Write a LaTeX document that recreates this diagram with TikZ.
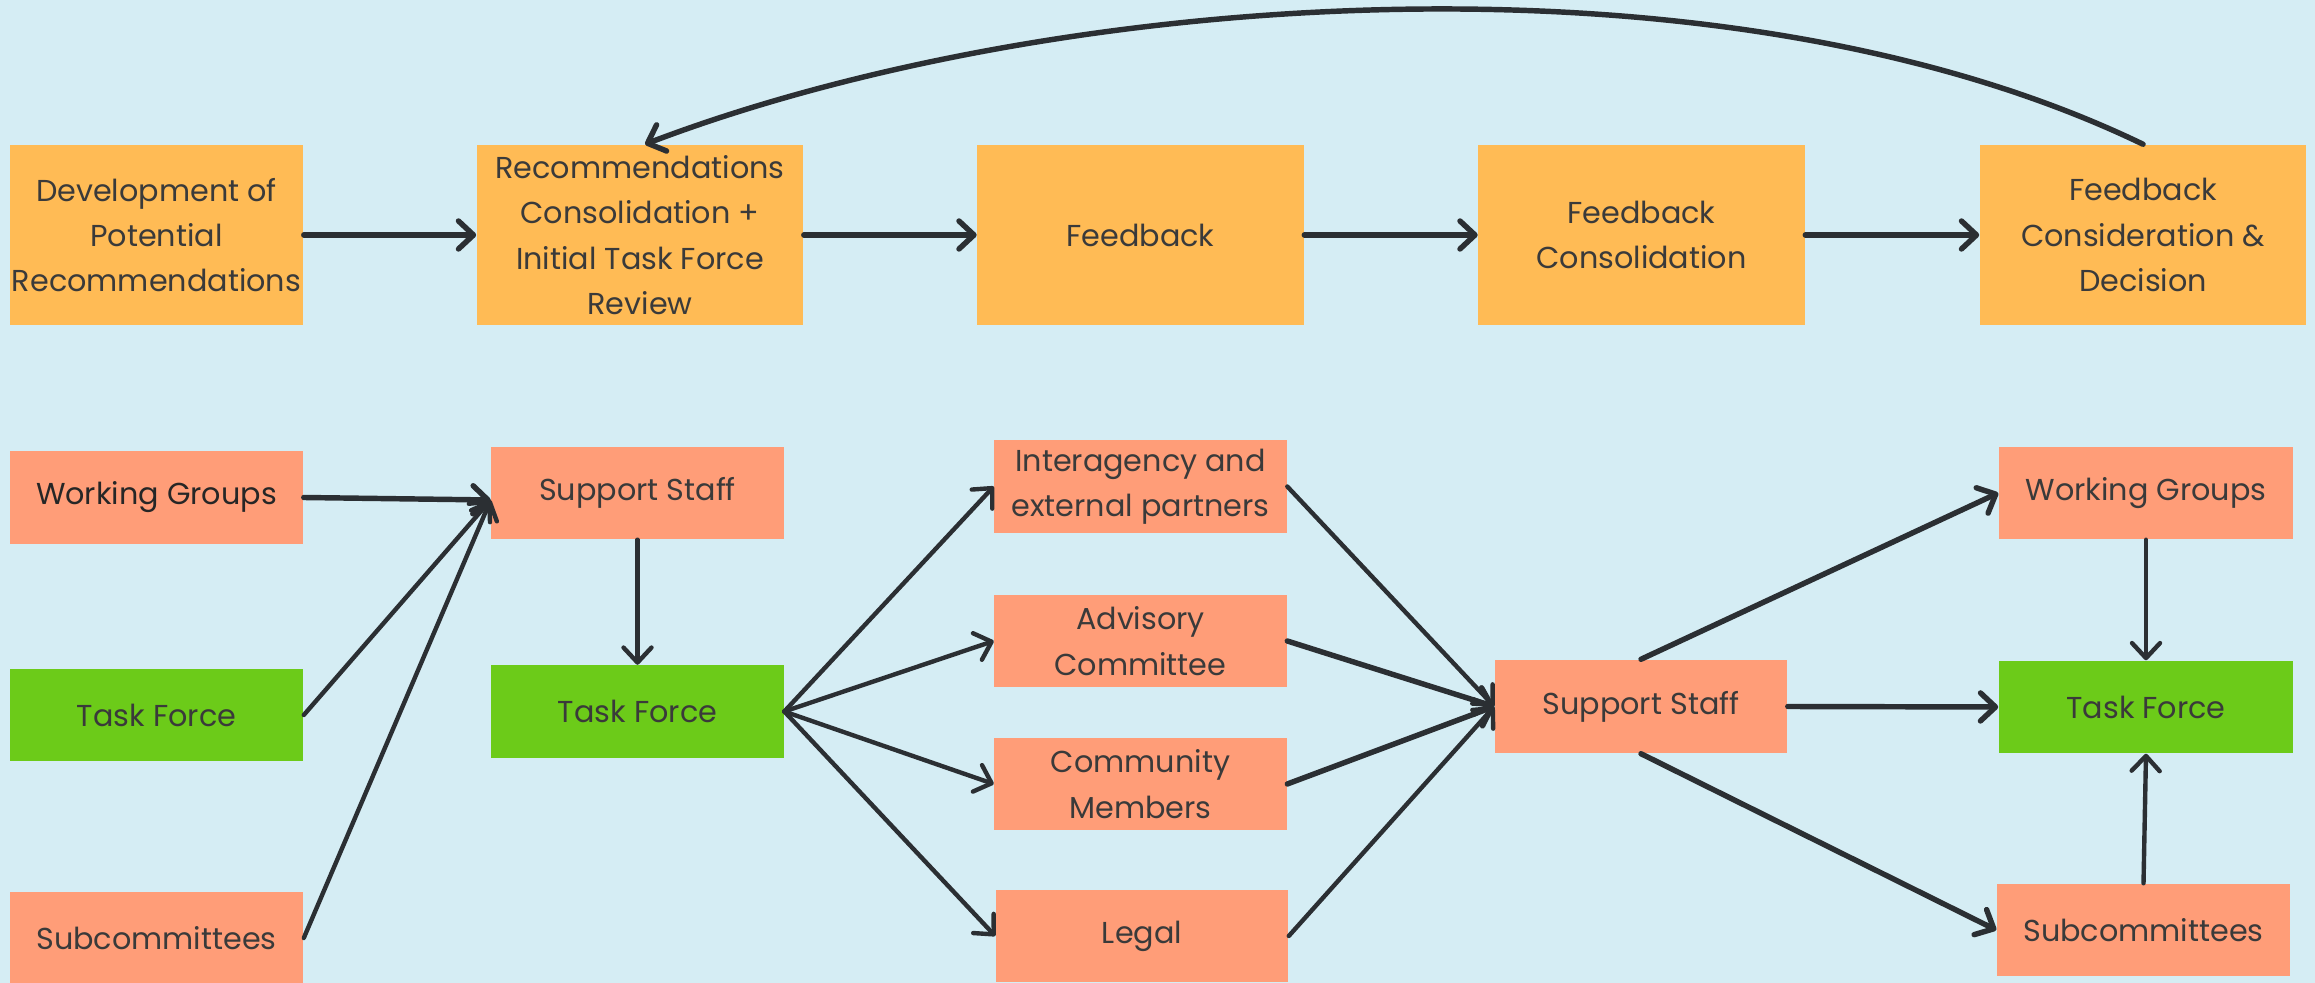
\documentclass[tikz,border=0pt]{standalone}
\usepackage{fontspec}
\setmainfont{Poppins}
\usetikzlibrary{arrows.meta,calc}
\definecolor{bg}{HTML}{D5EDF4}
\definecolor{orng}{HTML}{FFBB55}
\definecolor{salm}{HTML}{FF9D78}
\definecolor{grn}{HTML}{6CCB19}
\definecolor{txt}{HTML}{3A3A3A}
\definecolor{lin}{HTML}{2B2F33}
\begin{document}
\begin{tikzpicture}[x=0.01cm,y=-0.01cm,
  box/.style={inner sep=0pt,align=center,text=txt,font=\fontsize{8.6pt}{12.9pt}\selectfont},
  obox/.style={box,fill=orng,minimum width=3.26cm,minimum height=1.80cm},
  sbox/.style={box,fill=salm,minimum width=2.92cm,minimum height=0.92cm},
  gbox/.style={box,fill=grn,minimum width=2.92cm,minimum height=0.92cm},
  arr/.style={draw=lin,line width=1.25pt,line cap=round,-{Straight Barb[length=1.5mm,width=2.8mm,line cap=round,line join=round]}},
  tarr/.style={arr,line width=1.55pt}]
\fill[bg] (0,0) rectangle (2315,983);
\useasboundingbox (0,0) rectangle (2315,983);
% top row
\node[obox,minimum width=2.93cm] (b1) at (156.5,235) {Development of\\Potential\\Recommendations};
\node[obox] (b2) at (640,235) {Recommendations\\Consolidation +\\Initial Task Force\\Review};
\node[obox] (b3) at (1140.5,235) {Feedback};
\node[obox] (b4) at (1641.5,235) {Feedback\\Consolidation};
\node[obox] (b5) at (2143,235) {Feedback\\Consideration \&\\Decision};
\draw[tarr] (b1) -- (b2);
\draw[tarr] (b2) -- (b3);
\draw[tarr] (b3) -- (b4);
\draw[tarr] (b4) -- (b5);
\draw[tarr] (b5.north) .. controls (1720,-60) and (1050,-10) .. ([xshift=0.05cm]b2.north);
% bottom left
\node[sbox,minimum width=2.93cm,text=black!85] (wgL) at (156.5,497.5) {Working Groups};
\node[gbox,minimum width=2.93cm] (tfL) at (156.5,715) {Task Force};
\node[sbox,minimum width=2.93cm] (subL) at (156.5,938) {Subcommittees};
\node[sbox] (ss1) at (637.5,493) {Support Staff};
\node[gbox] (tf2) at (637.5,711.5) {Task Force};
\coordinate (ss1in) at ($(ss1.west)+(0,7)$);
\draw[tarr] (wgL.east) -- (ss1in);
\draw[arr] (tfL.east) -- (ss1in);
\draw[arr] (subL.east) -- (ss1in);
\draw[arr] (ss1.south) -- (tf2.north);
% middle
\node[sbox,minimum height=0.93cm] (inter) at (1140.5,486.5) {Interagency and\\external partners};
\node[sbox] (adv) at (1140.5,641) {Advisory\\Committee};
\node[sbox] (comm) at (1140.5,784) {Community\\Members};
\node[sbox] (legal) at (1142,936) {Legal};
\node[sbox,minimum height=0.93cm] (ss2) at (1641,706.5) {Support Staff};
\draw[arr] (tf2.east) -- (inter.west);
\draw[arr] (tf2.east) -- (adv.west);
\draw[arr] (tf2.east) -- (comm.west);
\draw[arr] (tf2.east) -- (legal.west);
\draw[arr] (inter.east) -- (ss2.west);
\draw[tarr] (adv.east) -- (ss2.west);
\draw[tarr] (comm.east) -- (ss2.west);
\draw[arr] (legal.east) -- (ss2.west);
% right
\node[sbox,minimum width=2.94cm] (wgR) at (2146,493) {Working Groups};
\node[gbox,minimum width=2.94cm] (tfR) at (2146,707) {Task Force};
\node[sbox,minimum width=2.93cm] (subR) at (2143.5,930) {Subcommittees};
\draw[tarr] (ss2.north) -- (wgR.west);
\draw[tarr] (ss2.east) -- (tfR.west);
\draw[tarr] (ss2.south) -- (subR.west);
\draw[arr] (wgR.south) -- (tfR.north);
\draw[arr] (subR.north) -- (tfR.south);
\end{tikzpicture}
\end{document}
